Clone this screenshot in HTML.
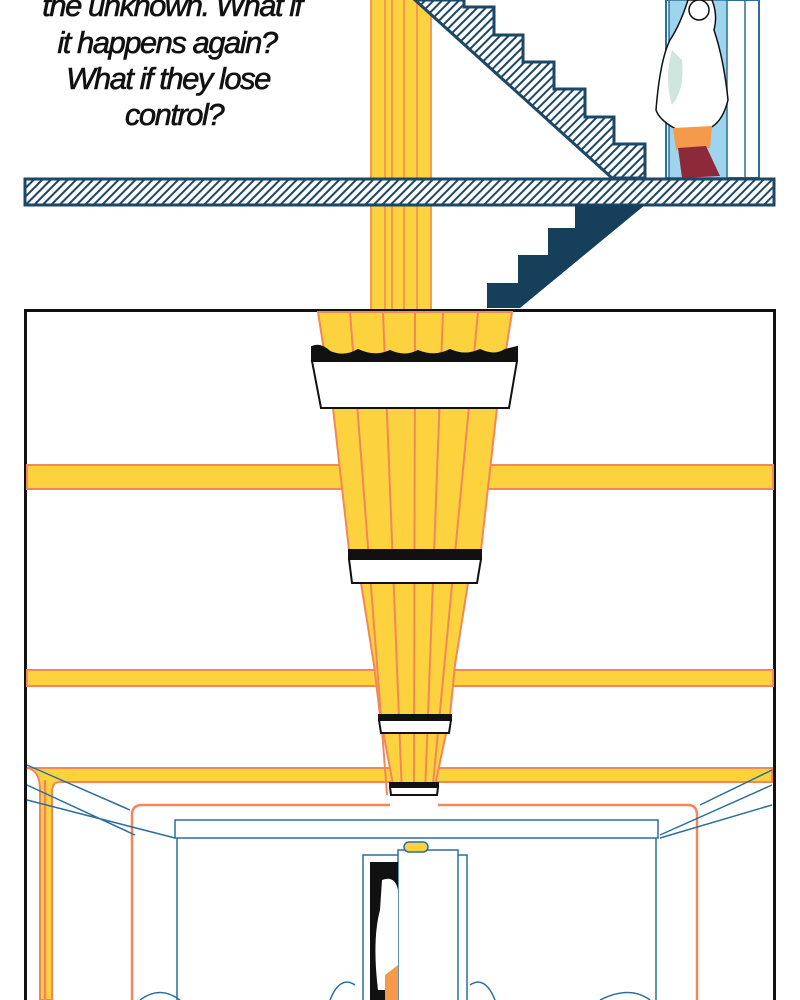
<!DOCTYPE html>
<html><head><meta charset="utf-8"><style>
html,body{margin:0;padding:0;background:#fff;width:800px;height:1000px;overflow:hidden}
svg{display:block}
</style></head><body>
<svg width="800" height="1000" viewBox="0 0 800 1000" xmlns="http://www.w3.org/2000/svg">
<defs>
<pattern id="h" width="6" height="6" patternUnits="userSpaceOnUse" patternTransform="rotate(45)">
<rect width="6" height="6" fill="#fff"/><rect width="2" height="6" fill="#1d4766"/>
</pattern>
</defs>
<g font-family="Liberation Sans, sans-serif" font-style="italic" font-size="31" fill="#111" text-anchor="middle" letter-spacing="-1.5" stroke="#111" stroke-width="0.6">
<text x="172" y="16">the unknown. What if</text>
<text x="167" y="53">it happens again?</text>
<text x="168" y="89">What if they lose</text>
<text x="174" y="125">control?</text>
</g>
<rect x="370" y="0" width="62" height="312" fill="#fdd23f"/>
<g stroke="#f4875a" stroke-width="1.5">
<line x1="371" y1="0" x2="371" y2="312"/><line x1="385" y1="0" x2="385" y2="312"/><line x1="392" y1="0" x2="392" y2="312"/><line x1="404" y1="0" x2="404" y2="312"/><line x1="417" y1="0" x2="417" y2="312"/><line x1="431" y1="0" x2="431" y2="312"/>
</g>
<polygon points="415,0 464,0 464,7 494,7 494,35 523,35 523,62 554,62 554,89 585,89 585,117 614,117 614,144 645,144 645,178 612,178" fill="url(#h)" stroke="#1d4766" stroke-width="3"/>
<rect x="666" y="0" width="93" height="178" fill="#fff" stroke="#2b6f9a" stroke-width="2"/>
<rect x="669" y="0" width="58" height="178" fill="#9fd4ee" stroke="#2b6f9a" stroke-width="1.5"/>
<line x1="745" y1="0" x2="745" y2="178" stroke="#2b6f9a" stroke-width="1.5"/>
<path d="M688,0 L712,0 Q718,15 714,30 Q724,60 728,100 Q722,125 705,130 L682,132 Q660,122 656,110 Q660,60 670,40 Q680,25 688,0Z" fill="#fff" stroke="#111" stroke-width="1.5"/>
<circle cx="699" cy="10" r="10" fill="#fff" stroke="#111" stroke-width="1.5"/>
<path d="M672,50 Q664,80 672,105 Q685,90 682,60Z" fill="#cfe6df"/>
<path d="M673,128 L712,126 L710,148 L676,150Z" fill="#f49a4a"/>
<path d="M678,148 L706,146 L720,176 L682,178Z" fill="#8c2a3a"/>
<rect x="25" y="179" width="749" height="26" fill="url(#h)" stroke="#1d4766" stroke-width="3"/>
<polygon points="575,205 645,205 520,308 487,308 487,283 518,283 518,255 548,255 548,228 575,228" fill="#163f5c"/>
<rect x="25.5" y="310.5" width="749" height="700" fill="#fff" stroke="#111" stroke-width="3"/>
<g fill="#fdd23f" stroke="#f4875a" stroke-width="2">
<rect x="27" y="465" width="746" height="24"/>
<rect x="27" y="670" width="746" height="16"/>
<path d="M27,768 L772,768 L772,782 L60,782 Q52,782 52,792 L52,1000 L40,1000 L40,790 Q40,770 27,768Z"/>
</g>
<polygon points="318,312 512,312 497,408 481,550 468,583 455,665 450,715 433,795 395,795 380,715 374,665 361,583 349,550 333,408" fill="#fdd23f" stroke="#f4875a" stroke-width="2"/>
<g stroke="#f4875a" stroke-width="2">
<line x1="350" y1="312" x2="387" y2="795"/><line x1="383" y1="312" x2="402" y2="795"/><line x1="415" y1="312" x2="414" y2="795"/><line x1="443" y1="312" x2="425" y2="795"/><line x1="478" y1="312" x2="432" y2="795"/>
</g>
<g stroke="#111" stroke-width="2">
<path d="M312,347 Q320,343 330,352 Q345,358 358,350 Q375,358 390,351 Q405,358 418,351 Q435,358 450,350 Q465,357 480,350 Q495,357 505,350 L517,347 L517,361 L312,361Z" fill="#111"/>
<polygon points="312,361 517,361 509,408 321,408" fill="#fff"/>
<path d="M349,550 L481,550 L481,559 L349,559Z" fill="#111"/>
<polygon points="349,559 481,559 477,583 352,583" fill="#fff"/>
<rect x="379" y="715" width="72" height="5" fill="#111"/>
<polygon points="379,720 451,720 449,733 381,733" fill="#fff"/>
<rect x="390" y="783" width="48" height="4" fill="#111"/>
<polygon points="390,787 438,787 437,795 391,795" fill="#fff"/>
</g>
<g fill="none" stroke="#f4875a" stroke-width="2.5">
<path d="M132,1000 L132,815 Q132,805 142,805 L390,805 M438,805 L688,805 Q697,805 697,815 L697,1000"/>
<path d="M45,780 L45,1000"/>
</g>
<g fill="none" stroke="#2b6f9a" stroke-width="1.5">
<path d="M27,765 L130,810 M27,785 L135,835 M27,800 L175,838"/>
<path d="M772,785 L660,835 M772,805 L660,838 M772,770 L700,805"/>
<rect x="175" y="820" width="483" height="18"/>
<line x1="177" y1="838" x2="177" y2="1000"/><line x1="656" y1="838" x2="656" y2="1000"/>
<rect x="363" y="855" width="104" height="150"/>
<rect x="398" y="850" width="60" height="160" fill="#fff"/>
<rect x="404" y="842" width="24" height="10" rx="5" fill="#fdd23f"/>
<path d="M140,1000 Q160,985 180,1000 M330,1000 Q340,975 355,985 M470,985 Q485,975 495,1000 M600,1000 Q630,985 650,1000"/>
</g>
<rect x="370" y="862" width="28" height="140" fill="#111"/>
<path d="M382,880 Q395,875 398,890 L398,990 L378,990 Q372,940 380,910Z" fill="#fff"/>
<path d="M385,975 L398,965 L398,1000 L385,1000Z" fill="#f49a4a"/>
</svg>
</body></html>
